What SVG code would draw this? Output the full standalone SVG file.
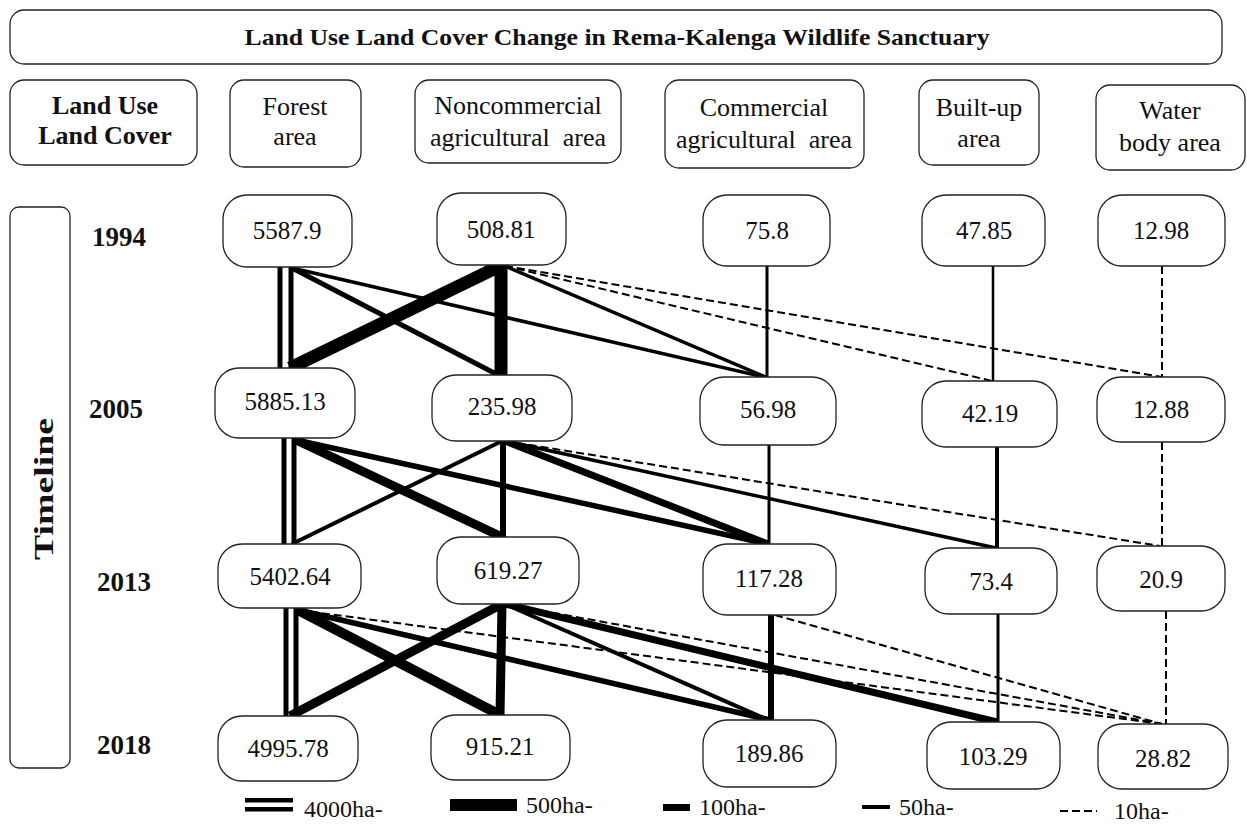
<svg xmlns="http://www.w3.org/2000/svg" width="1247" height="825" viewBox="0 0 1247 825">
<style>
.box{fill:#fff;stroke:#222;stroke-width:1.3}
.t{font-family:"Liberation Serif","Times New Roman",serif;fill:#111;text-anchor:middle}
.hd{font-size:26px}
.b{font-weight:bold}
.v{font-size:25px}
.yr{font-size:27px;font-weight:bold;font-family:"Liberation Serif","Times New Roman",serif;fill:#111}
.c{stroke:#000;fill:none;stroke-linecap:butt}
.d{stroke:#000;fill:none;stroke-width:2;stroke-dasharray:8 4}
.lg{font-family:"Liberation Serif","Times New Roman",serif;font-size:24px;fill:#111}
</style>
<rect width="1247" height="825" fill="#fff"/>

<g id="title">
<rect class="box" x="10" y="10" width="1212" height="54" rx="14"/>
<text class="t b" x="617" y="45" font-size="23" textLength="745" lengthAdjust="spacingAndGlyphs">Land Use Land Cover Change in Rema-Kalenga Wildlife Sanctuary</text>
</g>

<g id="hdr-lulc"><rect class="box" x="10" y="80" width="187" height="85" rx="14"/>
<text class="t hd b" x="105" y="114">Land Use</text><text class="t hd b" x="105" y="144">Land Cover</text></g>
<g id="hdr-forest"><rect class="box" x="230" y="80" width="131" height="87" rx="14"/>
<text class="t hd" x="295" y="115">Forest</text><text class="t hd" x="295" y="145">area</text></g>
<g id="hdr-noncomm"><rect class="box" x="415" y="80" width="206" height="83" rx="14"/>
<text class="t hd" x="518" y="114">Noncommercial</text><text class="t hd" x="518" y="146">agricultural&#160; area</text></g>
<g id="hdr-comm"><rect class="box" x="665" y="80" width="199" height="88" rx="14"/>
<text class="t hd" x="764" y="116">Commercial</text><text class="t hd" x="764" y="148">agricultural&#160; area</text></g>
<g id="hdr-built"><rect class="box" x="919" y="80" width="120" height="85" rx="14"/>
<text class="t hd" x="979" y="116">Built-up</text><text class="t hd" x="979" y="147">area</text></g>
<g id="hdr-water"><rect class="box" x="1096" y="85" width="149" height="85" rx="14"/>
<text class="t hd" x="1170" y="119">Water</text><text class="t hd" x="1170" y="151">body area</text></g>

<g id="timeline"><rect class="box" x="10" y="207" width="60" height="561" rx="9"/>
<text class="t b" font-size="28" transform="translate(53,489) rotate(-90)" textLength="142" lengthAdjust="spacingAndGlyphs">Timeline</text></g>
<g id="years">
<text class="yr" x="92" y="246">1994</text>
<text class="yr" x="89" y="418">2005</text>
<text class="yr" x="97" y="591">2013</text>
<text class="yr" x="97" y="754">2018</text>
</g>

<g id="connectors">
<!-- 1994 to 2005 -->
<line class="c" x1="280" y1="266" x2="280" y2="368" stroke-width="5"/>
<line class="c" x1="291" y1="266" x2="291" y2="368" stroke-width="5"/>
<line class="c" x1="292" y1="268" x2="500" y2="376" stroke-width="5"/>
<line class="c" x1="292" y1="268" x2="768" y2="378" stroke-width="3.5"/>
<line class="c" x1="500" y1="266" x2="290" y2="368" stroke-width="13"/>
<line class="c" x1="501" y1="265" x2="501" y2="375" stroke-width="13"/>
<line class="c" x1="505" y1="266" x2="768" y2="378" stroke-width="3.5"/>
<line class="d" x1="505" y1="266" x2="992" y2="381"/>
<line class="d" x1="505" y1="266" x2="1162" y2="377"/>
<line class="c" x1="767" y1="266" x2="767" y2="377" stroke-width="3"/>
<line class="c" x1="993" y1="266" x2="993" y2="381" stroke-width="2.5"/>
<line class="d" x1="1162" y1="266" x2="1162" y2="377"/>
<!-- 2005 to 2013 -->
<line class="c" x1="284" y1="438" x2="284" y2="544" stroke-width="5"/>
<line class="c" x1="294" y1="438" x2="294" y2="544" stroke-width="5"/>
<line class="c" x1="296" y1="440" x2="502" y2="537" stroke-width="9"/>
<line class="c" x1="296" y1="440" x2="768" y2="544" stroke-width="5.5"/>
<line class="c" x1="502" y1="441" x2="292" y2="544" stroke-width="4"/>
<line class="c" x1="503" y1="441" x2="503" y2="537" stroke-width="6"/>
<line class="c" x1="505" y1="441" x2="768" y2="544" stroke-width="7"/>
<line class="c" x1="505" y1="441" x2="996" y2="548" stroke-width="3.5"/>
<line class="d" x1="505" y1="441" x2="1160" y2="546"/>
<line class="c" x1="769" y1="445" x2="769" y2="544" stroke-width="3"/>
<line class="c" x1="997" y1="447" x2="997" y2="548" stroke-width="4"/>
<line class="d" x1="1162" y1="442" x2="1162" y2="546"/>
<!-- 2013 to 2018 -->
<line class="c" x1="286" y1="608" x2="286" y2="716" stroke-width="5"/>
<line class="c" x1="296" y1="608" x2="296" y2="716" stroke-width="5"/>
<line class="c" x1="298" y1="610" x2="500" y2="715" stroke-width="10"/>
<line class="c" x1="298" y1="610" x2="770" y2="720" stroke-width="5.5"/>
<line class="d" x1="298" y1="610" x2="1162" y2="724"/>
<line class="c" x1="502" y1="604" x2="290" y2="716" stroke-width="9"/>
<line class="c" x1="502" y1="604" x2="500" y2="715" stroke-width="9"/>
<line class="c" x1="505" y1="604" x2="768" y2="720" stroke-width="4"/>
<line class="c" x1="505" y1="604" x2="997" y2="722" stroke-width="7"/>
<line class="d" x1="505" y1="604" x2="1162" y2="724"/>
<line class="d" x1="775" y1="615" x2="1162" y2="724"/>
<line class="c" x1="771" y1="615" x2="771" y2="720" stroke-width="6"/>
<line class="c" x1="998" y1="614" x2="998" y2="722" stroke-width="3"/>
<line class="d" x1="1166" y1="611" x2="1166" y2="724"/>
</g>

<g id="n-f1994"><rect class="box" x="223" y="195" width="129" height="72" rx="24"/><text class="t v" x="287" y="239">5587.9</text></g>
<g id="n-n1994"><rect class="box" x="437" y="193" width="129" height="72" rx="24"/><text class="t v" x="501" y="238">508.81</text></g>
<g id="n-c1994"><rect class="box" x="703" y="195" width="127" height="71" rx="24"/><text class="t v" x="767" y="239">75.8</text></g>
<g id="n-b1994"><rect class="box" x="922" y="195" width="123" height="71" rx="24"/><text class="t v" x="984" y="239">47.85</text></g>
<g id="n-w1994"><rect class="box" x="1098" y="195" width="127" height="71" rx="24"/><text class="t v" x="1161" y="239">12.98</text></g>

<g id="n-f2005"><rect class="box" x="215" y="368" width="140" height="70" rx="24"/><text class="t v" x="285" y="410">5885.13</text></g>
<g id="n-n2005"><rect class="box" x="432" y="375" width="140" height="66" rx="24"/><text class="t v" x="502" y="415">235.98</text></g>
<g id="n-c2005"><rect class="box" x="700" y="377" width="136" height="68" rx="24"/><text class="t v" x="768" y="418">56.98</text></g>
<g id="n-b2005"><rect class="box" x="922" y="381" width="135" height="66" rx="24"/><text class="t v" x="990" y="422">42.19</text></g>
<g id="n-w2005"><rect class="box" x="1097" y="377" width="128" height="65" rx="24"/><text class="t v" x="1161" y="418">12.88</text></g>

<g id="n-f2013"><rect class="box" x="218" y="544" width="143" height="64" rx="24"/><text class="t v" x="290" y="585">5402.64</text></g>
<g id="n-n2013"><rect class="box" x="437" y="537" width="142" height="67" rx="24"/><text class="t v" x="508" y="579">619.27</text></g>
<g id="n-c2013"><rect class="box" x="703" y="544" width="133" height="71" rx="24"/><text class="t v" x="769" y="587">117.28</text></g>
<g id="n-b2013"><rect class="box" x="925" y="548" width="132" height="66" rx="24"/><text class="t v" x="991" y="590">73.4</text></g>
<g id="n-w2013"><rect class="box" x="1097" y="546" width="128" height="65" rx="24"/><text class="t v" x="1161" y="588">20.9</text></g>

<g id="n-f2018"><rect class="box" x="218" y="716" width="140" height="65" rx="24"/><text class="t v" x="288" y="757">4995.78</text></g>
<g id="n-n2018"><rect class="box" x="431" y="715" width="139" height="65" rx="24"/><text class="t v" x="500" y="755">915.21</text></g>
<g id="n-c2018"><rect class="box" x="703" y="720" width="133" height="67" rx="24"/><text class="t v" x="769" y="762">189.86</text></g>
<g id="n-b2018"><rect class="box" x="927" y="722" width="133" height="67" rx="24"/><text class="t v" x="993" y="765">103.29</text></g>
<g id="n-w2018"><rect class="box" x="1098" y="724" width="130" height="65" rx="24"/><text class="t v" x="1163" y="767">28.82</text></g>

<g id="legend">
<rect x="245" y="798" width="48" height="4.5" fill="#000"/>
<rect x="245" y="807" width="48" height="4.5" fill="#000"/>
<text class="lg" x="304" y="817">4000ha-</text>
<rect x="450" y="799" width="67" height="12" fill="#000"/>
<text class="lg" x="526" y="813">500ha-</text>
<rect x="663" y="804" width="27" height="7" fill="#000"/>
<text class="lg" x="699" y="815">100ha-</text>
<rect x="862" y="805" width="28" height="4" fill="#000"/>
<text class="lg" x="899" y="815">50ha-</text>
<line class="d" x1="1060" y1="811" x2="1097" y2="811" stroke-dasharray="6 3"/>
<text class="lg" x="1114" y="819">10ha-</text>
</g>
</svg>
